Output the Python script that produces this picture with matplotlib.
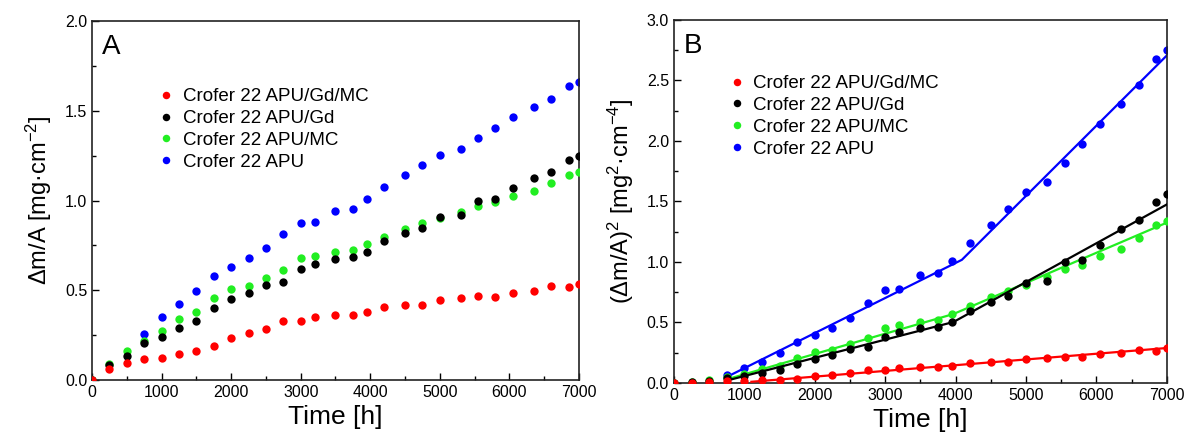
import numpy as np
import matplotlib
matplotlib.use("Agg")
import matplotlib.pyplot as plt
from matplotlib.ticker import MultipleLocator

plt.rcParams['font.family'] = ['Liberation Sans', 'DejaVu Sans']
plt.rcParams['mathtext.default'] = 'regular'

# exposure times [h]
time = [0, 250, 500, 750, 1000, 1250, 1500, 1750, 2000, 2250, 2500, 2750, 3000,
        3200, 3500, 3750, 3950, 4200, 4500, 4750, 5000, 5300, 5550, 5800, 6050,
        6350, 6600, 6850, 7000]

# mass gain [mg/cm2], panel A
gd_mc = [0.0, 0.06, 0.093, 0.117, 0.124, 0.145, 0.16, 0.19, 0.236, 0.263, 0.286,
         0.328, 0.328, 0.349, 0.36, 0.36, 0.38, 0.404, 0.42, 0.419, 0.445, 0.458,
         0.466, 0.46, 0.486, 0.495, 0.523, 0.516, 0.536]
gd = [0.0, 0.085, 0.134, 0.208, 0.239, 0.288, 0.328, 0.40, 0.449, 0.482, 0.529,
      0.547, 0.616, 0.646, 0.675, 0.683, 0.712, 0.774, 0.82, 0.846, 0.907, 0.92,
      0.998, 1.009, 1.067, 1.128, 1.161, 1.224, 1.249]
mc = [0.0, 0.089, 0.161, 0.22, 0.275, 0.338, 0.378, 0.455, 0.505, 0.523, 0.568,
      0.612, 0.677, 0.69, 0.712, 0.724, 0.757, 0.798, 0.844, 0.872, 0.9, 0.935,
      0.972, 0.989, 1.024, 1.054, 1.095, 1.143, 1.158]
# bare steel, first points not shown
apu_time = time[3:]
apu = [0.256, 0.351, 0.421, 0.494, 0.581, 0.627, 0.677, 0.733, 0.813, 0.876,
       0.881, 0.944, 0.955, 1.006, 1.076, 1.141, 1.2, 1.256, 1.288, 1.347, 1.404,
       1.464, 1.519, 1.568, 1.636, 1.66]

labels = ['Crofer 22 APU/Gd/MC', 'Crofer 22 APU/Gd', 'Crofer 22 APU/MC', 'Crofer 22 APU']
colors = ['#ff0000', '#000000', '#22ee22', '#0000ff']

# parabolic fits, panel B (breakpoints of piecewise lines)
fit_gd_mc_t = [1100, 7000]
fit_gd_mc_y = [0.01, 0.289]
fit_gd_t = [750, 3970, 7000]
fit_gd_y = [0.02, 0.504, 1.475]
fit_mc_t = [750, 3970, 7000]
fit_mc_y = [0.03, 0.57, 1.325]
fit_apu_t = [750, 4090, 7000]
fit_apu_y = [0.05, 1.018, 2.706]

fig = plt.figure(figsize=(11.92, 4.44), dpi=100)
axA = fig.add_axes([0.0772, 0.1441, 0.4085, 0.8086])
axB = fig.add_axes([0.5654, 0.1374, 0.4134, 0.8176])

series = [(time, gd_mc), (time, gd), (time, mc), (apu_time, apu)]
zord = [5, 4, 3, 2]

for (t, y), lab, c, z in zip(series, labels, colors, zord):
    axA.plot(t, y, 'o', color=c, ms=6, mew=0, label=lab, zorder=z)
    axB.plot(t, np.array(y) ** 2, 'o', color=c, ms=6, mew=0, label=lab, zorder=z)

fits = [(fit_gd_mc_t, fit_gd_mc_y), (fit_gd_t, fit_gd_y), (fit_mc_t, fit_mc_y), (fit_apu_t, fit_apu_y)]
for (t, y), c, z in zip(fits, colors, zord):
    axB.plot(t, y, '-', color=c, lw=1.6, zorder=z)

for ax in (axA, axB):
    ax.set_xlim(0, 7000)
    ax.xaxis.set_major_locator(MultipleLocator(1000))
    ax.xaxis.set_minor_locator(MultipleLocator(500))
    ax.tick_params(which='both', direction='in', top=False, right=False, labelsize=11.5)
    ax.tick_params(which='major', length=5, width=1)
    ax.tick_params(which='minor', length=3, width=1)
    for s in ax.spines.values():
        s.set_linewidth(1.2)
        s.set_color('#222222')
    ax.set_xlabel('Time [h]', fontsize=19, labelpad=4)

axA.legend(loc='upper left', bbox_to_anchor=(0.095, 0.86), frameon=False, fontsize=13.5,
           handletextpad=0.3, labelspacing=0.25, markerscale=0.9, handlelength=1.2)
axB.legend(loc='upper left', bbox_to_anchor=(0.07, 0.895), frameon=False, fontsize=13.5,
           handletextpad=0.3, labelspacing=0.25, markerscale=0.9, handlelength=1.2)

axA.set_ylim(0, 2.0)
axA.yaxis.set_major_locator(MultipleLocator(0.5))
axA.yaxis.set_minor_locator(MultipleLocator(0.25))
axA.yaxis.set_major_formatter(matplotlib.ticker.FormatStrFormatter('%.1f'))
axA.set_ylabel('Δm/A [mg·cm$^{-2}$]', fontsize=17, labelpad=8)
axA.text(0.02, 0.965, 'A', transform=axA.transAxes, fontsize=20, va='top')

axB.set_ylim(0, 3.0)
axB.yaxis.set_major_locator(MultipleLocator(0.5))
axB.yaxis.set_minor_locator(MultipleLocator(0.25))
axB.yaxis.set_major_formatter(matplotlib.ticker.FormatStrFormatter('%.1f'))
axB.set_ylabel('(Δm/A)$^2$ [mg$^2$·cm$^{-4}$]', fontsize=17, labelpad=8)
axB.text(0.02, 0.965, 'B', transform=axB.transAxes, fontsize=20, va='top')

fig.savefig('out.png', dpi=100)
